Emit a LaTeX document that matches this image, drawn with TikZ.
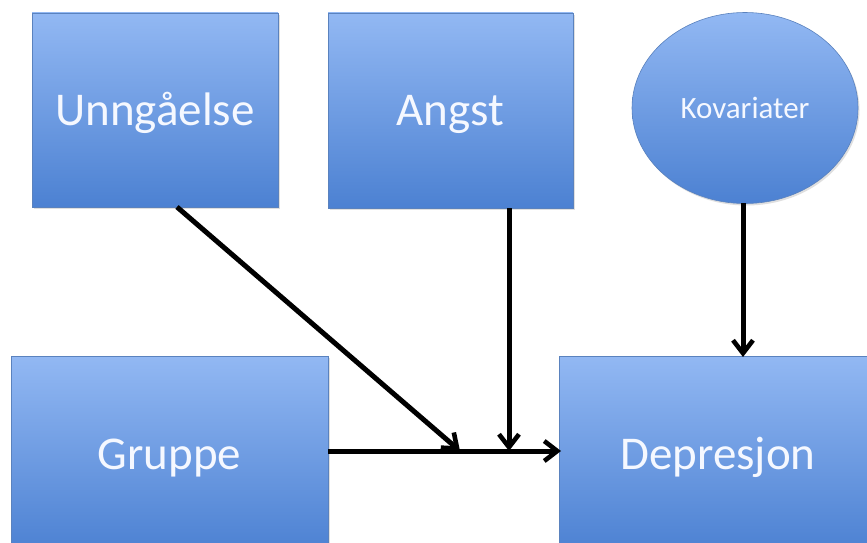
\documentclass[tikz,border=0pt]{standalone}
\usepackage{fontspec}
\setmainfont{Carlito}
\usetikzlibrary{arrows.meta,shapes.geometric,shadows}
\definecolor{topblue}{RGB}{146,184,243}
\definecolor{botblue}{RGB}{76,129,210}
\definecolor{edgeblue}{RGB}{90,130,190}
\definecolor{txt}{RGB}{245,248,255}
\tikzset{
  boxnode/.style={rectangle, draw=edgeblue, line width=0.6pt, top color=topblue, bottom color=botblue,
    text=txt, inner sep=0pt, font=\fontsize{47}{50}\selectfont, text height=30pt, text depth=0pt,
    drop shadow={opacity=0.25, shadow xshift=1.5pt, shadow yshift=-2pt}},
  ovalnode/.style={ellipse, draw=edgeblue, line width=0.6pt, top color=topblue, bottom color=botblue,
    text=txt, inner sep=0pt, font=\fontsize{31}{34}\selectfont, text height=20pt, text depth=0pt,
    drop shadow={opacity=0.25, shadow xshift=1.5pt, shadow yshift=-2pt}},
  conn/.style={line width=5pt, -{Straight Barb[length=13pt, width=20pt, line width=4.6pt]}}
}
\begin{document}
\begin{tikzpicture}[x=1pt,y=-1pt]
\useasboundingbox (0,0) rectangle (867,543);
\fill[white] (0,0) rectangle (867,543);
\node[boxnode, minimum width=246pt, minimum height=194pt] (u) at (155,110) {Unngåelse};
\node[boxnode, minimum width=245pt, minimum height=195pt] (a) at (450.5,110.5) {Angst};
\node[ovalnode, minimum width=226pt, minimum height=191pt] (k) at (745,108) {Kovariater};
\node[boxnode, minimum width=317pt, minimum height=196pt] (g) at (169.5,454) {Gruppe};
\node[boxnode, minimum width=318pt, minimum height=196pt] (d) at (718,454) {Depresjon};
\coordinate (m1) at (460,451);
\coordinate (m2) at (509,451);
\coordinate (us) at (177,207);
\coordinate (as) at (509,208);
\coordinate (ks) at (743,203);
\coordinate (dt) at (743,357);
\coordinate (gr) at (328,451);
\coordinate (dl) at (561,451);
\draw[conn] (us) -- (m1);
\draw[conn] (as) -- (m2);
\draw[conn] (gr) -- (dl);
\draw[conn] (ks) -- (dt);
\end{tikzpicture}
\end{document}
